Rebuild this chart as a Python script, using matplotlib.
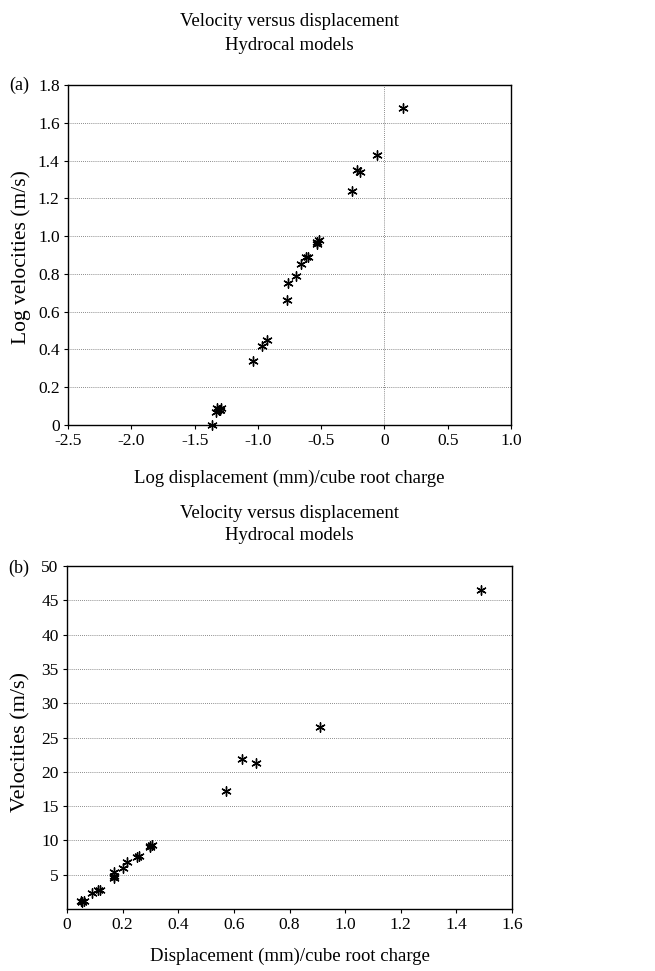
import matplotlib
matplotlib.use("Agg")
import matplotlib.pyplot as plt

plt.rcParams['font.family'] = ['Liberation Serif', 'DejaVu Serif']

# (a) log-log data
log_disp = [0.15, -0.06, -0.22, -0.19, -0.26, -0.53, -0.52, -0.53, -0.60, -0.62,
            -0.66, -0.70, -0.76, -0.77, -0.93, -0.97, -1.04,
            -1.33, -1.31, -1.29, -1.32, -1.30, -1.36]
log_vel = [1.68, 1.43, 1.35, 1.34, 1.24, 0.96, 0.98, 0.97, 0.89, 0.89,
           0.85, 0.79, 0.75, 0.66, 0.45, 0.42, 0.34,
           0.07, 0.08, 0.09, 0.09, 0.08, 0.0]

# (b) linear data
disp = [1.49, 0.91, 0.63, 0.68, 0.57, 0.30, 0.305, 0.30, 0.25, 0.26, 0.215,
        0.20, 0.17, 0.17, 0.17, 0.11, 0.12, 0.09, 0.05, 0.055, 0.06]
vel = [46.5, 26.5, 21.8, 21.3, 17.2, 9.0, 9.3, 9.2, 7.6, 7.7, 6.9,
       6.0, 5.4, 4.5, 4.8, 2.7, 2.8, 2.3, 1.2, 1.0, 1.2]

a_xticks = [-2.5, -2.0, -1.5, -1.0, -0.5, 0, 0.5, 1.0]
a_xlabels = ['-2.5', '-2.0', '-1.5', '-1.0', '-0.5', '0', '0.5', '1.0']
a_yticks = [0, 0.2, 0.4, 0.6, 0.8, 1.0, 1.2, 1.4, 1.6, 1.8]
a_ylabels = ['0', '0.2', '0.4', '0.6', '0.8', '1.0', '1.2', '1.4', '1.6', '1.8']
b_xticks = [0, 0.2, 0.4, 0.6, 0.8, 1.0, 1.2, 1.4, 1.6]
b_xlabels = ['0', '0.2', '0.4', '0.6', '0.8', '1.0', '1.2', '1.4', '1.6']
b_yticks = [5, 10, 15, 20, 25, 30, 35, 40, 45, 50]

W, H = 655, 971
fig = plt.figure(figsize=(W / 100, H / 100), dpi=100)


def fy(py):
    return 1 - py / H


def style(ax):
    for s in ax.spines.values():
        s.set_linewidth(1.0)
        s.set_color('black')
    ax.tick_params(direction='out', length=3, width=0.8, pad=3, labelsize=12.5)
    ax.yaxis.grid(True, linestyle=(0, (1, 1.5)), color='#666666', linewidth=0.6)
    ax.set_axisbelow(True)


mk = dict(marker=(6, 2, 0), s=45, color='black', linewidths=1.0)

# panel (a)
ax1 = fig.add_axes([68 / W, fy(425), (511 - 68) / W, (425 - 85) / H])
style(ax1)
ax1.scatter(log_disp, log_vel, clip_on=False, **mk)
ax1.axvline(0, linestyle=(0, (1, 1.5)), color='#666666', linewidth=0.6)
ax1.set_xlim(-2.5, 1.0)
ax1.set_ylim(0, 1.8)
ax1.set_xticks(a_xticks, a_xlabels)
ax1.set_yticks(a_yticks, a_ylabels)

fig.text(289.5 / W, fy(22), 'Velocity versus displacement', ha='center', va='center', fontsize=13.5)
fig.text(289.5 / W, fy(45), 'Hydrocal models', ha='center', va='center', fontsize=13.5)
fig.text(19 / W, fy(85), '(a)', ha='center', va='center', fontsize=13)
fig.text(21 / W, fy(257), 'Log velocities (m/s)', ha='center', va='center', rotation=90, fontsize=15.5)
fig.text(289.5 / W, fy(478), 'Log displacement (mm)/cube root charge', ha='center', va='center', fontsize=13.5)

# panel (b)
ax2 = fig.add_axes([67 / W, fy(909), (512 - 67) / W, (909 - 566) / H])
style(ax2)
ax2.scatter(disp, vel, clip_on=False, **mk)
ax2.set_xlim(0, 1.6)
ax2.set_ylim(0, 50)
ax2.set_xticks(b_xticks, b_xlabels)
ax2.set_yticks(b_yticks)

fig.text(289.5 / W, fy(514), 'Velocity versus displacement', ha='center', va='center', fontsize=13.5)
fig.text(289.5 / W, fy(536), 'Hydrocal models', ha='center', va='center', fontsize=13.5)
fig.text(19 / W, fy(568), '(b)', ha='center', va='center', fontsize=13)
fig.text(21 / W, fy(742), 'Velocities (m/s)', ha='center', va='center', rotation=90, fontsize=16)
fig.text(289.5 / W, fy(956), 'Displacement (mm)/cube root charge', ha='center', va='center', fontsize=13.5)

fig.savefig('out.png', dpi=100)
